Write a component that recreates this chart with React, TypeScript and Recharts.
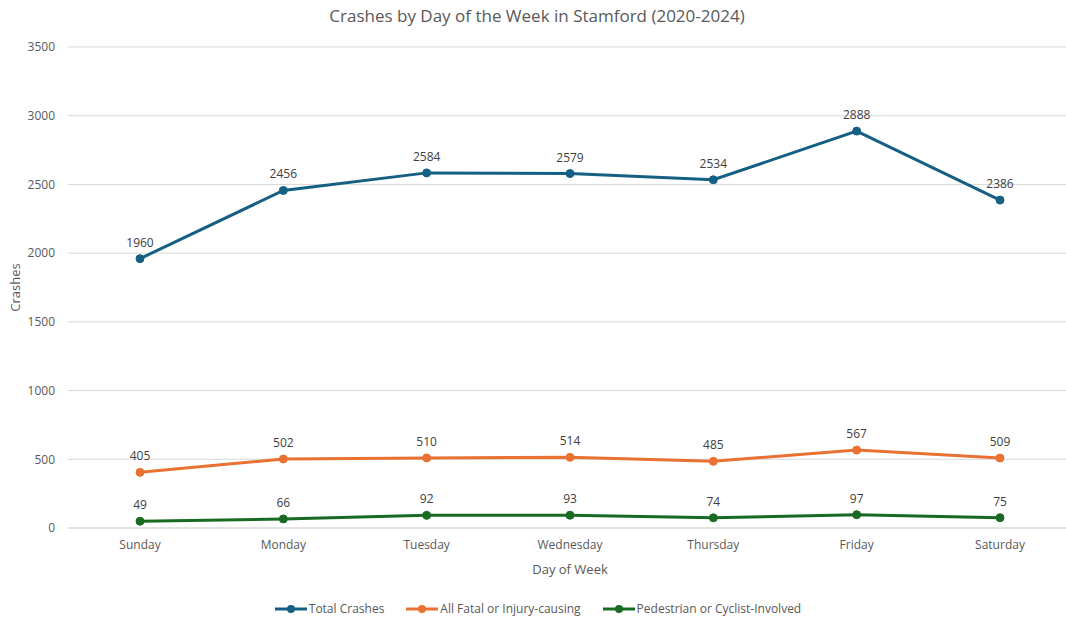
import React from 'react'
import {
  CartesianGrid,
  LabelList,
  Line,
  LineChart,
  XAxis,
  YAxis,
} from 'recharts'

const days = ['Sunday', 'Monday', 'Tuesday', 'Wednesday', 'Thursday', 'Friday', 'Saturday']
const totalCrashes = [1960, 2456, 2584, 2579, 2534, 2888, 2386]
const fatalOrInjury = [405, 502, 510, 514, 485, 567, 509]
const pedCyclist = [49, 66, 92, 93, 74, 97, 75]
const yTicks = [0, 500, 1000, 1500, 2000, 2500, 3000, 3500]

const series = [
  { key: 'total', name: 'Total Crashes', color: '#156082' },
  { key: 'fatal', name: 'All Fatal or Injury-causing', color: '#E97132' },
  { key: 'ped', name: 'Pedestrian or Cyclist-Involved', color: '#196B24' },
]

const data = days.map((day, i) => ({
  day,
  total: totalCrashes[i],
  fatal: fatalOrInjury[i],
  ped: pedCyclist[i],
}))

const FONT = '"Open Sans", Roboto, sans-serif'
const TEXT = '#595959'

export default function App() {
  return (
    <div
      style={{
        position: 'fixed',
        left: 0,
        top: 0,
        width: 1066,
        height: 621,
        overflow: 'hidden',
        background: '#fff',
        fontFamily: FONT,
      }}
    >
      <div
        style={{
          position: 'absolute',
          top: 4,
          left: 0,
          width: 1074,
          textAlign: 'center',
          fontSize: 17,
          color: TEXT,
        }}
      >
        Crashes by Day of the Week in Stamford (2020-2024)
      </div>
      <LineChart
        width={1075}
        height={621}
        data={data}
        margin={{ top: 47, right: 3, left: 0, bottom: 43 }}
        style={{ fontFamily: FONT }}
      >
        <CartesianGrid vertical={false} stroke="#d9d9d9" />
        <XAxis
          dataKey="day"
          height={50}
          padding={{ left: 72, right: 72 }}
          tickLine={false}
          axisLine={{ stroke: '#d9d9d9' }}
          tick={{ fill: TEXT, fontSize: 12 }}
          tickMargin={6}
          label={{ value: 'Day of Week', position: 'insideBottom', offset: 4, fill: TEXT, fontSize: 13 }}
        />
        <YAxis
          width={68}
          domain={[0, 3500]}
          ticks={yTicks}
          tickLine={false}
          axisLine={false}
          tick={{ fill: TEXT, fontSize: 12 }}
          tickMargin={7}
          label={{
            value: 'Crashes',
            angle: -90,
            position: 'insideLeft',
            dx: 10,
            fill: TEXT,
            fontSize: 13,
            style: { textAnchor: 'middle' },
          }}
        />
        {series.map((s) => (
          <Line
            key={s.key}
            dataKey={s.key}
            name={s.name}
            type="linear"
            stroke={s.color}
            strokeWidth={3}
            dot={{ r: 4, fill: s.color, stroke: s.color, strokeWidth: 1 }}
            isAnimationActive={false}
          >
            <LabelList dataKey={s.key} position="top" offset={12} fill="#404040" fontSize={12} />
          </Line>
        ))}
      </LineChart>
      <div
        style={{
          position: 'absolute',
          top: 600,
          left: 0,
          width: 1076,
          display: 'flex',
          justifyContent: 'center',
          gap: 22,
          fontSize: 12,
          color: TEXT,
        }}
      >
        {series.map((s) => (
          <div key={s.key} style={{ display: 'flex', alignItems: 'center', gap: 2 }}>
            <svg width={32} height={10}>
              <line x1={0} y1={5} x2={32} y2={5} stroke={s.color} strokeWidth={3} />
              <circle cx={16} cy={5} r={4} fill={s.color} />
            </svg>
            <span>{s.name}</span>
          </div>
        ))}
      </div>
    </div>
  )
}
